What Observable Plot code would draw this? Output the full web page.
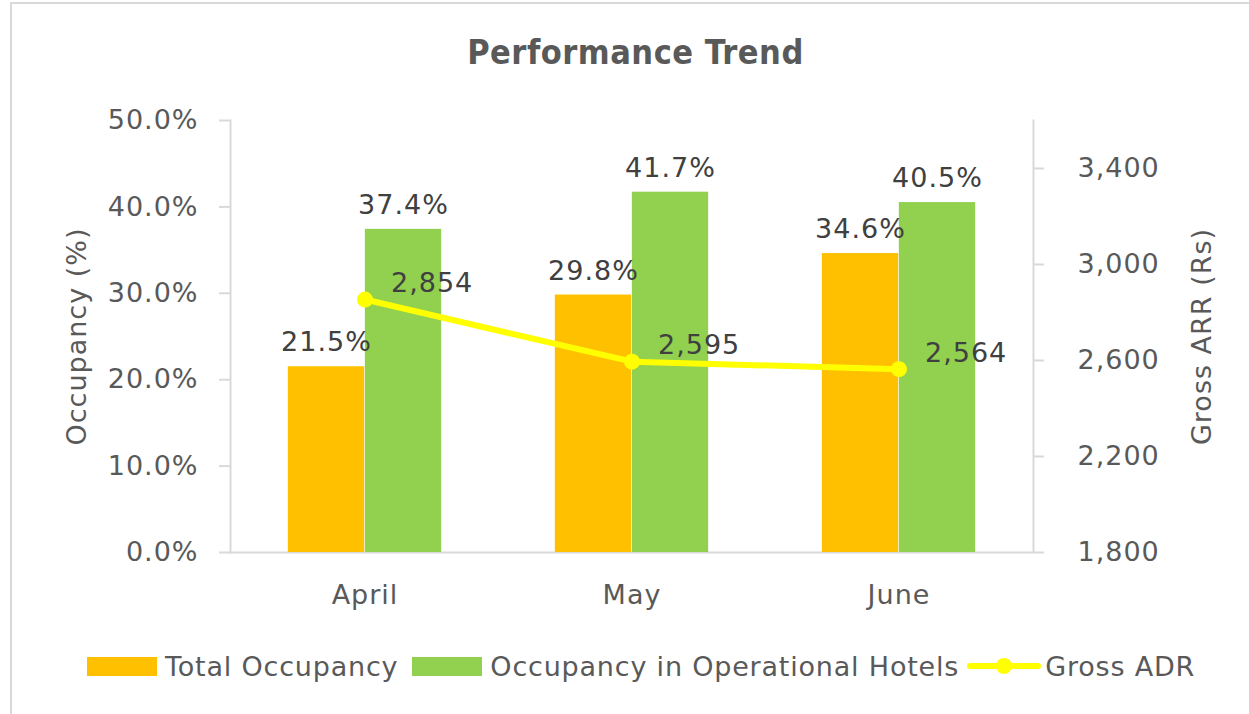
<!DOCTYPE html>
<html><head><meta charset="utf-8">
<script src="https://cdn.jsdelivr.net/npm/d3@7"></script>
<script src="https://cdn.jsdelivr.net/npm/@observablehq/plot@0.6"></script>
<style>
body{margin:0;background:#fff;font-family:"DejaVu Sans",sans-serif;overflow:hidden;}
#frame{position:absolute;left:10px;top:2px;width:1400px;height:900px;border-top:2px solid #d9d9d9;border-left:2px solid #d9d9d9;}
#title{position:absolute;left:0;top:33px;width:1271px;text-align:center;font-weight:bold;font-size:34px;line-height:38px;font-family:"DejaVu Sans Condensed","DejaVu Sans",sans-serif;color:#595959;letter-spacing:0.5px;}
#chart{position:absolute;left:0;top:90px;}
#legend{position:absolute;left:87px;top:648px;height:36px;display:flex;align-items:center;font-size:27px;color:#595959;white-space:nowrap;letter-spacing:0.8px;}
#legend .sw{width:70px;height:19px;display:inline-block;margin-right:8px;}
#legend .item{display:flex;align-items:center;margin-right:14px;}
</style></head><body>
<div id="frame"></div>
<div id="title">Performance Trend</div>
<div id="chart"></div>
<div id="legend"></div>
<script>
const months = ["April", "May", "June"];
const totalOcc = [21.5, 29.8, 34.6];
const operOcc = [37.4, 41.7, 40.5];
const grossAdr = [2854, 2595, 2564];
const leftTicks = [0, 10, 20, 30, 40, 50];
const rightTicks = [1800, 2200, 2600, 3000, 3400];
const rightDomain = [1800, 3600];
const seriesNames = ["Total Occupancy", "Occupancy in Operational Hotels", "Gross ADR"];
const colors = ["#FFC000", "#92D050", "#FFFF00"];

const rows = months.map((m, i) => ({month: m, total: totalOcc[i], oper: operOcc[i], adr: grossAdr[i]}));
const conv = v => (v - rightDomain[0]) / (rightDomain[1] - rightDomain[0]) * 50;
const inv = d => d / 50 * (rightDomain[1] - rightDomain[0]) + rightDomain[0];

const W = 1249, mL = 230, mR = 216;
const bw = (W - mL - mR) / months.length;
const barW = 77;
const axisGray = "#d9d9d9", textGray = "#595959", labelGray = "#404040";
const font = "DejaVu Sans";

const chart = Plot.plot({
  width: W, height: 522,
  marginTop: 30, marginBottom: 60, marginLeft: mL, marginRight: mR,
  style: {fontFamily: font, fontSize: "27px", color: textGray, background: "transparent", overflow: "visible", letterSpacing: "1px"},
  x: {domain: months, padding: 0, axis: null},
  y: {domain: [0, 50], axis: null},
  marks: [
    Plot.frame({anchor: "left", stroke: axisGray, strokeWidth: 2}),
    Plot.frame({anchor: "right", stroke: axisGray, strokeWidth: 2}),
    Plot.ruleY([0], {stroke: axisGray, strokeWidth: 2}),
    Plot.axisY(leftTicks, {anchor: "left", tickFormat: d => d.toFixed(1) + "%", tickSize: 11, tickPadding: 21, stroke: axisGray, strokeWidth: 2, fill: textGray, fontSize: 27, label: null}),
    Plot.axisY(rightTicks.map(conv), {anchor: "right", tickFormat: d => d3.format(",")(Math.round(inv(d))), tickSize: 10, tickPadding: 34, stroke: axisGray, strokeWidth: 2, fill: textGray, fontSize: 27, label: null}),
    Plot.axisX({tickSize: 0, tickPadding: 32, fill: textGray, fontSize: 27, label: null}),
    Plot.barY(rows, {x: "month", y: "total", fill: colors[0], insetLeft: bw / 2 - barW, insetRight: bw / 2}),
    Plot.barY(rows, {x: "month", y: "oper", fill: colors[1], insetLeft: bw / 2, insetRight: bw / 2 - barW}),
    Plot.text(rows, {x: "month", y: "total", text: d => d.total.toFixed(1) + "%", dx: -barW / 2, dy: -24, lineAnchor: "middle", fill: labelGray, fontSize: 27}),
    Plot.text(rows, {x: "month", y: "oper", text: d => d.oper.toFixed(1) + "%", dx: barW / 2, dy: -24, lineAnchor: "middle", fill: labelGray, fontSize: 27}),
    Plot.line(rows, {x: "month", y: d => conv(d.adr), stroke: colors[2], strokeWidth: 6}),
    Plot.dot(rows, {x: "month", y: d => conv(d.adr), r: 8, fill: colors[2], stroke: null}),
    Plot.text(rows, {x: "month", y: d => conv(d.adr), text: d => d3.format(",")(d.adr), dx: 26, dy: -16, textAnchor: "start", lineAnchor: "middle", fill: labelGray, fontSize: 27}),
    Plot.text(["Occupancy (%)"], {frameAnchor: "left", dx: -153, rotate: -90, lineAnchor: "middle", textAnchor: "middle", fill: textGray, fontSize: 27}),
    Plot.text(["Gross ARR (Rs)"], {frameAnchor: "right", dx: 169, rotate: -90, lineAnchor: "middle", textAnchor: "middle", fill: textGray, fontSize: 27})
  ]
});
document.getElementById("chart").appendChild(chart);

const legend = document.getElementById("legend");
seriesNames.forEach((name, i) => {
  const item = document.createElement("div");
  item.className = "item";
  if (i < 2) {
    const sw = document.createElement("span");
    sw.className = "sw";
    sw.style.background = colors[i];
    item.appendChild(sw);
  } else {
    const ns = "http://www.w3.org/2000/svg";
    const svg = document.createElementNS(ns, "svg");
    svg.setAttribute("width", 74); svg.setAttribute("height", 20);
    svg.style.marginLeft = "-6px";
    svg.style.marginRight = "4px";
    const ln = document.createElementNS(ns, "line");
    ln.setAttribute("x1", 3); ln.setAttribute("x2", 71); ln.setAttribute("y1", 10); ln.setAttribute("y2", 10);
    ln.setAttribute("stroke", colors[2]); ln.setAttribute("stroke-width", 6); ln.setAttribute("stroke-linecap", "round");
    const c = document.createElementNS(ns, "circle");
    c.setAttribute("cx", 37); c.setAttribute("cy", 10); c.setAttribute("r", 8); c.setAttribute("fill", colors[2]);
    svg.appendChild(ln); svg.appendChild(c);
    item.appendChild(svg);
  }
  const t = document.createElement("span");
  t.textContent = name;
  item.appendChild(t);
  legend.appendChild(item);
});
</script>
</body></html>
